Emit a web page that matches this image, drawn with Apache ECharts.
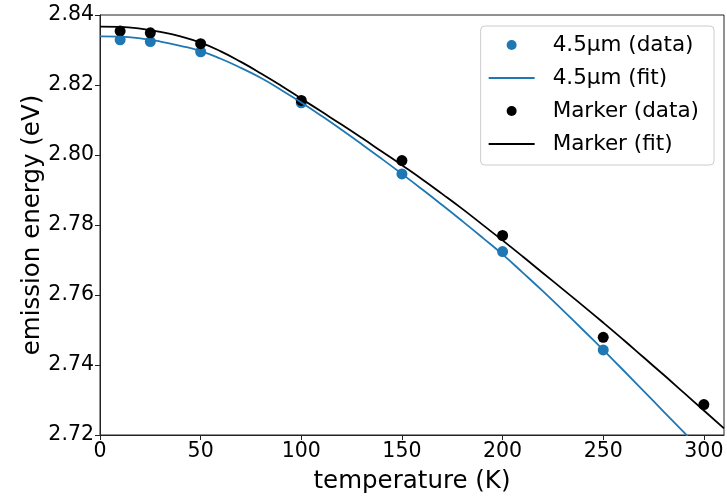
<!DOCTYPE html>
<html>
<head>
<meta charset="utf-8">
<script src="https://cdn.jsdelivr.net/npm/echarts@6/dist/echarts.min.js"></script>
<style>
  html, body { margin: 0; padding: 0; background: #fff; }
  #chart { width: 727px; height: 499px; }
</style>
</head>
<body>
<div id="chart"></div>
<script>
// Measured emission energies (eV) vs temperature (K)
const dataTemps = [10, 25, 50, 100, 150, 200, 250];
const wireData = [2.8329, 2.8324, 2.8295, 2.8149, 2.7946, 2.7724, 2.7443];

const markerTemps = [10, 25, 50, 100, 150, 200, 250, 300];
const markerData = [2.8354, 2.8349, 2.8318, 2.8156, 2.7984, 2.7770, 2.7479, 2.7287];

// Fitted curves sampled every 10 K
const fitTemps = [0, 10, 20, 30, 40, 50, 60, 70, 80, 90, 100, 110, 120, 130, 140, 150,
  160, 170, 180, 190, 200, 210, 220, 230, 240, 250, 260, 270, 280, 290, 300, 310];
const wireFit = [2.8339, 2.8338, 2.8333, 2.8324, 2.8312, 2.8297, 2.8275, 2.8249, 2.8220, 2.8186,
  2.8150, 2.8112, 2.8072, 2.8031, 2.7989, 2.7946, 2.7902, 2.7857, 2.7811, 2.7764,
  2.7716, 2.7664, 2.7611, 2.7556, 2.7500, 2.7443, 2.7385, 2.7326, 2.7267, 2.7208,
  2.7148, 2.7088];
const markerFit = [2.8367, 2.8366, 2.8361, 2.8352, 2.8339, 2.8321, 2.8296, 2.8266, 2.8233, 2.8198,
  2.8161, 2.8124, 2.8087, 2.8049, 2.8010, 2.7971, 2.7931, 2.7889, 2.7846, 2.7801,
  2.7756, 2.7710, 2.7663, 2.7616, 2.7569, 2.7521, 2.7472, 2.7422, 2.7372, 2.7321,
  2.7270, 2.7219];

const xTicks = { min: 0, max: 310, step: 50 };
const yTicks = { min: 2.72, max: 2.84, step: 0.02 };

const BLUE = '#1f77b4';
const BLACK = '#000000';
const FONT = 'DejaVu Sans';
// thin horizontal bar used as the legend swatch for the fitted lines
const LINE_ICON = 'path://M0 0 H46 V2 H0 Z';

const pairs = (xs, ys) => xs.map((x, i) => [x, ys[i]]);

const chart = echarts.init(document.getElementById('chart'), null, { renderer: 'canvas' });

chart.setOption({
  animation: false,
  backgroundColor: '#ffffff',
  grid: {
    left: 100, right: 3, top: 15, bottom: 59,
    show: true, borderColor: '#222', borderWidth: 1
  },
  xAxis: {
    type: 'value',
    min: xTicks.min, max: xTicks.max, interval: xTicks.step,
    name: 'temperature (K)',
    nameLocation: 'middle',
    nameGap: 34,
    nameMoveOverlap: false,
    nameTextStyle: { fontFamily: FONT, fontSize: 24.5, color: '#000' },
    axisLine: { show: true, lineStyle: { color: '#222', width: 1 } },
    axisTick: { show: true, inside: false, length: 5, lineStyle: { color: '#222' } },
    axisLabel: { fontFamily: FONT, fontSize: 20.5, color: '#000', margin: 6, showMaxLabel: false },
    splitLine: { show: false }
  },
  yAxis: {
    type: 'value',
    min: yTicks.min, max: yTicks.max, interval: yTicks.step,
    name: 'emission energy (eV)',
    nameLocation: 'middle',
    nameGap: 55,
    nameMoveOverlap: false,
    nameTextStyle: { fontFamily: FONT, fontSize: 24.5, color: '#000' },
    axisLine: { show: true, lineStyle: { color: '#222', width: 1 } },
    axisTick: { show: true, inside: false, length: 5, lineStyle: { color: '#222' } },
    axisLabel: {
      fontFamily: FONT, fontSize: 20.5, color: '#000', margin: 6,
      formatter: v => v.toFixed(2)
    },
    splitLine: { show: false }
  },
  legend: {
    orient: 'vertical',
    right: 13, top: 26,
    padding: [8, 15, 10, 8],
    itemGap: 11,
    itemWidth: 46, itemHeight: 10,
    backgroundColor: 'rgba(255,255,255,0.8)',
    borderColor: '#cccccc', borderWidth: 1, borderRadius: 4,
    textStyle: { fontFamily: FONT, fontSize: 21.5, color: '#000', padding: [0, 0, 0, 13] },
    data: [
      { name: '4.5µm (data)', icon: 'circle' },
      { name: '4.5µm (fit)', icon: LINE_ICON },
      { name: 'Marker (data)', icon: 'circle' },
      { name: 'Marker (fit)', icon: LINE_ICON }
    ]
  },
  series: [
    {
      name: '4.5µm (data)',
      type: 'scatter',
      data: pairs(dataTemps, wireData),
      symbol: 'circle', symbolSize: 11,
      itemStyle: { color: BLUE, opacity: 1 }
    },
    {
      name: '4.5µm (fit)',
      type: 'line',
      data: pairs(fitTemps, wireFit),
      smooth: true,
      showSymbol: false, symbol: 'none',
      clip: true,
      lineStyle: { color: BLUE, width: 1.8 },
      itemStyle: { color: BLUE }
    },
    {
      name: 'Marker (data)',
      type: 'scatter',
      data: pairs(markerTemps, markerData),
      symbol: 'circle', symbolSize: 11,
      itemStyle: { color: BLACK, opacity: 1 }
    },
    {
      name: 'Marker (fit)',
      type: 'line',
      data: pairs(fitTemps, markerFit),
      smooth: true,
      showSymbol: false, symbol: 'none',
      clip: true,
      lineStyle: { color: BLACK, width: 1.8 },
      itemStyle: { color: BLACK }
    }
  ]
});
</script>
</body>
</html>
